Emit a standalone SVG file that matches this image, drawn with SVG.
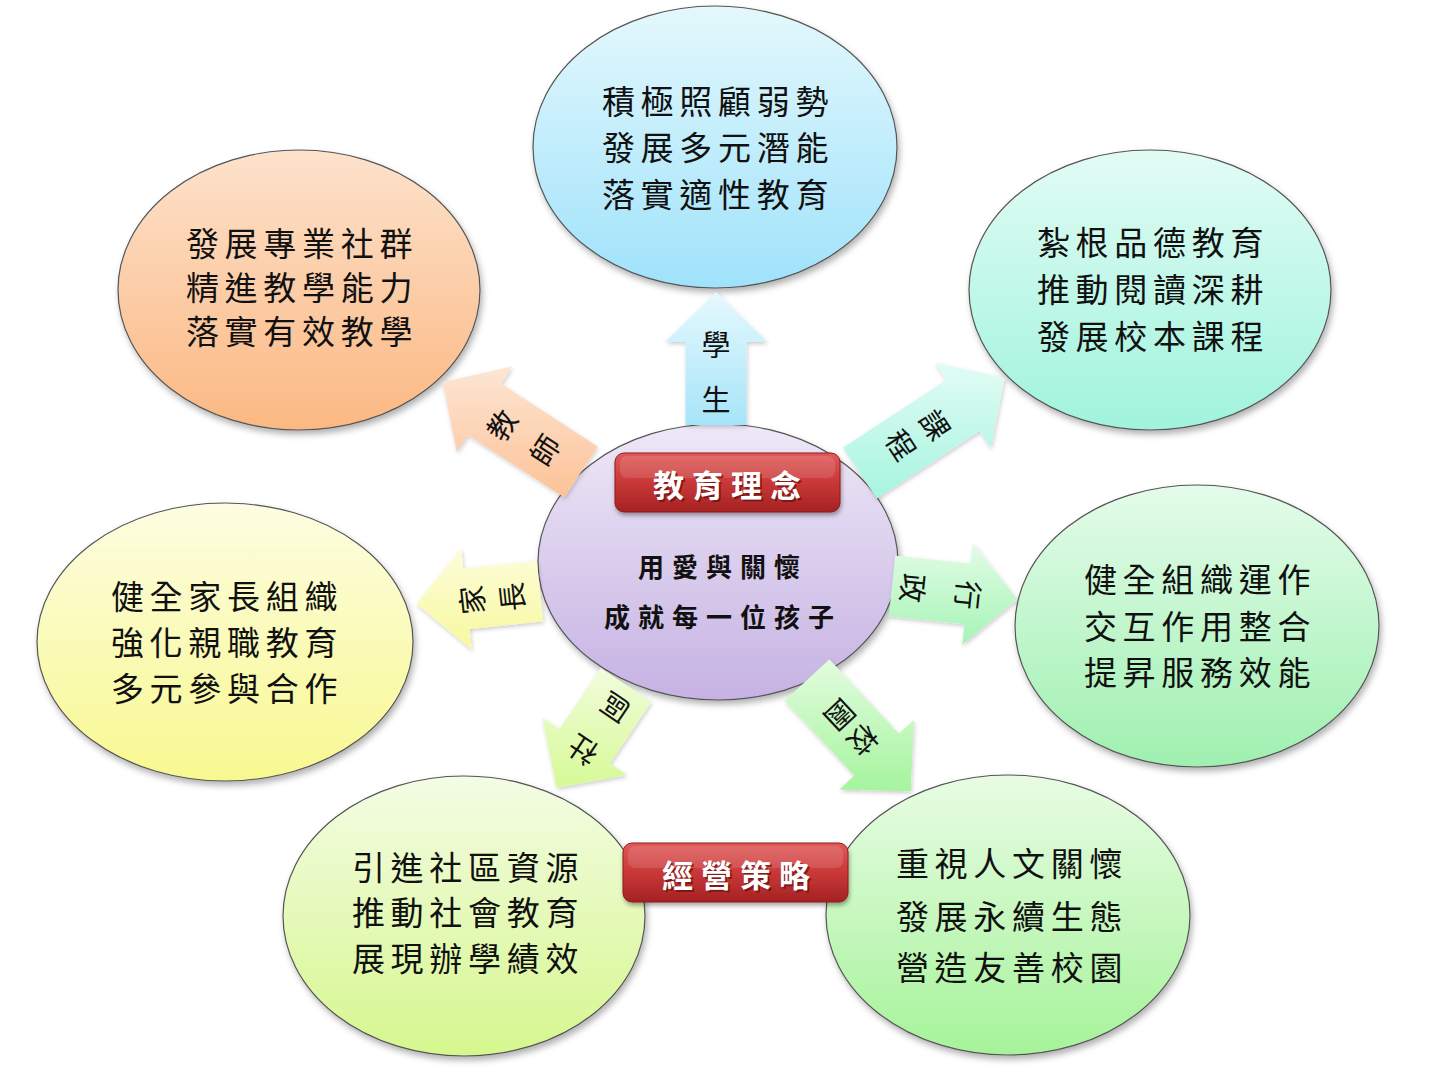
<svg xmlns="http://www.w3.org/2000/svg" width="1430" height="1077" viewBox="0 0 1430 1077">
<style>
.ell{stroke:#555;stroke-width:1.2;filter:url(#sh)}
.t{font-family:"Noto Sans CJK TC","Noto Sans CJK SC",sans-serif;font-size:33px;letter-spacing:5.7px;text-anchor:middle;fill:#111}
.c{font-family:"Noto Sans CJK TC","Noto Sans CJK SC",sans-serif;font-size:26px;font-weight:bold;letter-spacing:8px;text-anchor:middle;fill:#111}
.a{font-family:"Noto Sans CJK TC","Noto Sans CJK SC",sans-serif;font-size:29px;text-anchor:middle;fill:#111}
.lbl{font-family:"Noto Sans CJK TC","Noto Sans CJK SC",sans-serif;font-size:31px;font-weight:bold;letter-spacing:8px;text-anchor:middle;fill:#fff}
.lbs{font-family:"Noto Sans CJK TC","Noto Sans CJK SC",sans-serif;font-size:31px;font-weight:bold;letter-spacing:8px;text-anchor:middle;fill:#5a0a0a;opacity:0.6}
.red{fill:url(#gRed);stroke:#8e1d1d;stroke-width:1;filter:url(#sh2)}
.arr{stroke:none;filter:url(#sh3)}
</style>
<defs>
<filter id="sh" x="-10%" y="-10%" width="125%" height="130%"><feDropShadow dx="2" dy="4" stdDeviation="3" flood-color="#000" flood-opacity="0.3"/></filter>
<filter id="sh2" x="-10%" y="-20%" width="125%" height="150%"><feDropShadow dx="1" dy="3" stdDeviation="2" flood-color="#000" flood-opacity="0.35"/></filter>
<filter id="sh3" x="-20%" y="-20%" width="140%" height="140%"><feDropShadow dx="1" dy="2" stdDeviation="2" flood-color="#000" flood-opacity="0.2"/></filter>
<linearGradient id="gBlue" x1="0" y1="0" x2="0" y2="1"><stop offset="0" stop-color="#e4f8fc"/><stop offset="1" stop-color="#9fe2fb"/></linearGradient>
<linearGradient id="gOrange" x1="0" y1="0" x2="0" y2="1"><stop offset="0" stop-color="#fde2cc"/><stop offset="1" stop-color="#fbb882"/></linearGradient>
<linearGradient id="gTeal" x1="0" y1="0" x2="0" y2="1"><stop offset="0" stop-color="#e2fcf5"/><stop offset="1" stop-color="#a0f3dc"/></linearGradient>
<linearGradient id="gYellow" x1="0" y1="0" x2="0" y2="1"><stop offset="0" stop-color="#fdfde2"/><stop offset="1" stop-color="#f8f890"/></linearGradient>
<linearGradient id="gGreen" x1="0" y1="0" x2="0" y2="1"><stop offset="0" stop-color="#e4fcea"/><stop offset="1" stop-color="#9ff0b0"/></linearGradient>
<linearGradient id="gLime" x1="0" y1="0" x2="0" y2="1"><stop offset="0" stop-color="#f4fce4"/><stop offset="1" stop-color="#d6f78e"/></linearGradient>
<linearGradient id="gLgreen" x1="0" y1="0" x2="0" y2="1"><stop offset="0" stop-color="#e8fce4"/><stop offset="1" stop-color="#a6f39a"/></linearGradient>
<linearGradient id="gPurple" x1="0" y1="0" x2="0" y2="1"><stop offset="0" stop-color="#eee8f7"/><stop offset="1" stop-color="#c6b2e3"/></linearGradient>
<linearGradient id="gRed" x1="0" y1="0" x2="0" y2="1"><stop offset="0" stop-color="#e05a5a"/><stop offset="0.45" stop-color="#cc3a3a"/><stop offset="1" stop-color="#a52222"/></linearGradient>
<linearGradient id="aBlue" x1="0" y1="0" x2="0" y2="1"><stop offset="0" stop-color="#e6f9fd"/><stop offset="1" stop-color="#a6e4f9"/></linearGradient>
<linearGradient id="aOrange" x1="0" y1="0" x2="0" y2="1"><stop offset="0" stop-color="#fde6d4"/><stop offset="1" stop-color="#fcc296"/></linearGradient>
<linearGradient id="aTeal" x1="0" y1="0" x2="0" y2="1"><stop offset="0" stop-color="#e2fcf5"/><stop offset="1" stop-color="#a6f4df"/></linearGradient>
<linearGradient id="aGreen" x1="0" y1="0" x2="0" y2="1"><stop offset="0" stop-color="#e2fce6"/><stop offset="1" stop-color="#a6f4b6"/></linearGradient>
<linearGradient id="aYellow" x1="0" y1="0" x2="0" y2="1"><stop offset="0" stop-color="#fdfddc"/><stop offset="1" stop-color="#f8f89e"/></linearGradient>
<linearGradient id="aLime" x1="0" y1="0" x2="0" y2="1"><stop offset="0" stop-color="#f2fcdc"/><stop offset="1" stop-color="#d6fa96"/></linearGradient>
<linearGradient id="aLgreen" x1="0" y1="0" x2="0" y2="1"><stop offset="0" stop-color="#e2fcde"/><stop offset="1" stop-color="#a6f49e"/></linearGradient>
</defs>
<rect width="1430" height="1077" fill="#fff"/>

<g id="node-students">
<ellipse class="ell" cx="715" cy="147" rx="182" ry="141" fill="url(#gBlue)"/>
<text class="t" x="718" y="114">積極照顧弱勢</text>
<text class="t" x="718" y="160">發展多元潛能</text>
<text class="t" x="718" y="207">落實適性教育</text>
</g>

<g id="node-teachers">
<ellipse class="ell" cx="299" cy="290" rx="181" ry="140" fill="url(#gOrange)"/>
<text class="t" x="302" y="256">發展專業社群</text>
<text class="t" x="302" y="300">精進教學能力</text>
<text class="t" x="302" y="344">落實有效教學</text>
</g>

<g id="node-curriculum">
<ellipse class="ell" cx="1150" cy="290" rx="181" ry="140" fill="url(#gTeal)"/>
<text class="t" x="1153" y="255">紮根品德教育</text>
<text class="t" x="1153" y="302">推動閱讀深耕</text>
<text class="t" x="1153" y="349">發展校本課程</text>
</g>

<g id="node-parents">
<ellipse class="ell" cx="225" cy="642" rx="188" ry="139" fill="url(#gYellow)"/>
<text class="t" x="227" y="609">健全家長組織</text>
<text class="t" x="227" y="655">強化親職教育</text>
<text class="t" x="227" y="701">多元參與合作</text>
</g>

<g id="node-administration">
<ellipse class="ell" cx="1197" cy="626" rx="182" ry="141" fill="url(#gGreen)"/>
<text class="t" x="1200" y="592">健全組織運作</text>
<text class="t" x="1200" y="639">交互作用整合</text>
<text class="t" x="1200" y="685">提昇服務效能</text>
</g>

<g id="node-community">
<ellipse class="ell" cx="464" cy="916" rx="181" ry="140" fill="url(#gLime)"/>
<text class="t" x="468" y="880">引進社區資源</text>
<text class="t" x="468" y="925">推動社會教育</text>
<text class="t" x="468" y="971">展現辦學績效</text>
</g>

<g id="node-campus">
<ellipse class="ell" cx="1008" cy="915" rx="182" ry="140" fill="url(#gLgreen)"/>
<text class="t" x="1012" y="876">重視人文關懷</text>
<text class="t" x="1012" y="929">發展永續生態</text>
<text class="t" x="1012" y="980">營造友善校園</text>
</g>

<g id="node-center">
<ellipse class="ell" cx="718" cy="562" rx="180" ry="138" fill="url(#gPurple)"/>
<text class="c" x="723" y="577">用愛與關懷</text>
<text class="c" x="723" y="627">成就每一位孩子</text>
</g>

<g id="connectors">
<g id="arrow-students">
<polygon class="arr" fill="url(#aBlue)" points="685.5,425 685.5,342 665,342 716,292 767,342 746.5,342 746.5,425"/>
<text class="a" x="716" y="356">學</text>
<text class="a" x="716" y="411">生</text>
</g>
<g id="arrow-teachers">
<polygon class="arr" fill="url(#aOrange)" points="564.4,497.6 468,435 456.8,452.1 442.6,382.1 512.3,366.6 501.2,383.8 597.6,446.4"/>
<text class="a" x="502" y="436" transform="rotate(-57 502 425)">教</text>
<text class="a" x="545" y="461" transform="rotate(-57 545 450)">師</text>
</g>
<g id="arrow-curriculum">
<polygon class="arr" fill="url(#aTeal)" points="843.3,447.5 946.1,380 934.8,362.8 1004.6,378 990.8,448.1 979.5,431 876.7,498.5"/>
<text class="a" x="935" y="436" transform="rotate(57 935 425)">課</text>
<text class="a" x="901" y="456" transform="rotate(57 901 445)">程</text>
</g>
<g id="arrow-administration">
<polygon class="arr" fill="url(#aGreen)" points="895.2,555.7 970.8,563.6 972.9,543.2 1017.3,599.2 962.3,644.7 964.4,624.3 888.8,616.3"/>
<text class="a" x="913" y="599" transform="rotate(96 913 588)">政</text>
<text class="a" x="968" y="606" transform="rotate(96 968 595)">行</text>
</g>
<g id="arrow-parents">
<polygon class="arr" fill="url(#aYellow)" points="543.2,621.3 469.6,629.1 471.7,649.5 416.7,604 461.1,548 463.2,568.4 536.8,560.7"/>
<text class="a" x="472" y="611" transform="rotate(-96 472 600)">家</text>
<text class="a" x="512" y="608" transform="rotate(-96 512 597)">長</text>
</g>
<g id="arrow-community">
<polygon class="arr" fill="url(#aLime)" points="651.3,702.1 609.9,763.4 626.9,774.9 556.7,787.8 542.3,717.8 559.3,729.3 600.7,667.9"/>
<text class="a" x="615" y="718" transform="rotate(-146 615 707)">區</text>
<text class="a" x="583" y="761" transform="rotate(-146 583 750)">社</text>
</g>
<g id="arrow-campus">
<polygon class="arr" fill="url(#aLgreen)" points="829.3,659.2 898.9,733.8 913.9,719.8 910.7,791.2 839.3,789.4 854.3,775.4 784.7,700.8"/>
<text class="a" x="840" y="726" transform="rotate(137 840 715)">園</text>
<text class="a" x="863" y="751" transform="rotate(137 863 740)">校</text>
</g>
</g>

<g id="label-philosophy">
<rect class="red" x="615" y="453" width="225" height="59" rx="9"/>
<rect x="620" y="456" width="215" height="22" rx="7" fill="#fff" opacity="0.12"/>
<text class="lbs" x="733" y="499">教育理念</text>
<text class="lbl" x="731" y="497">教育理念</text>
</g>

<g id="label-strategy">
<rect class="red" x="623" y="843" width="225" height="59" rx="9"/>
<rect x="628" y="846" width="215" height="22" rx="7" fill="#fff" opacity="0.12"/>
<text class="lbs" x="742" y="889">經營策略</text>
<text class="lbl" x="740" y="887">經營策略</text>
</g>
</svg>
